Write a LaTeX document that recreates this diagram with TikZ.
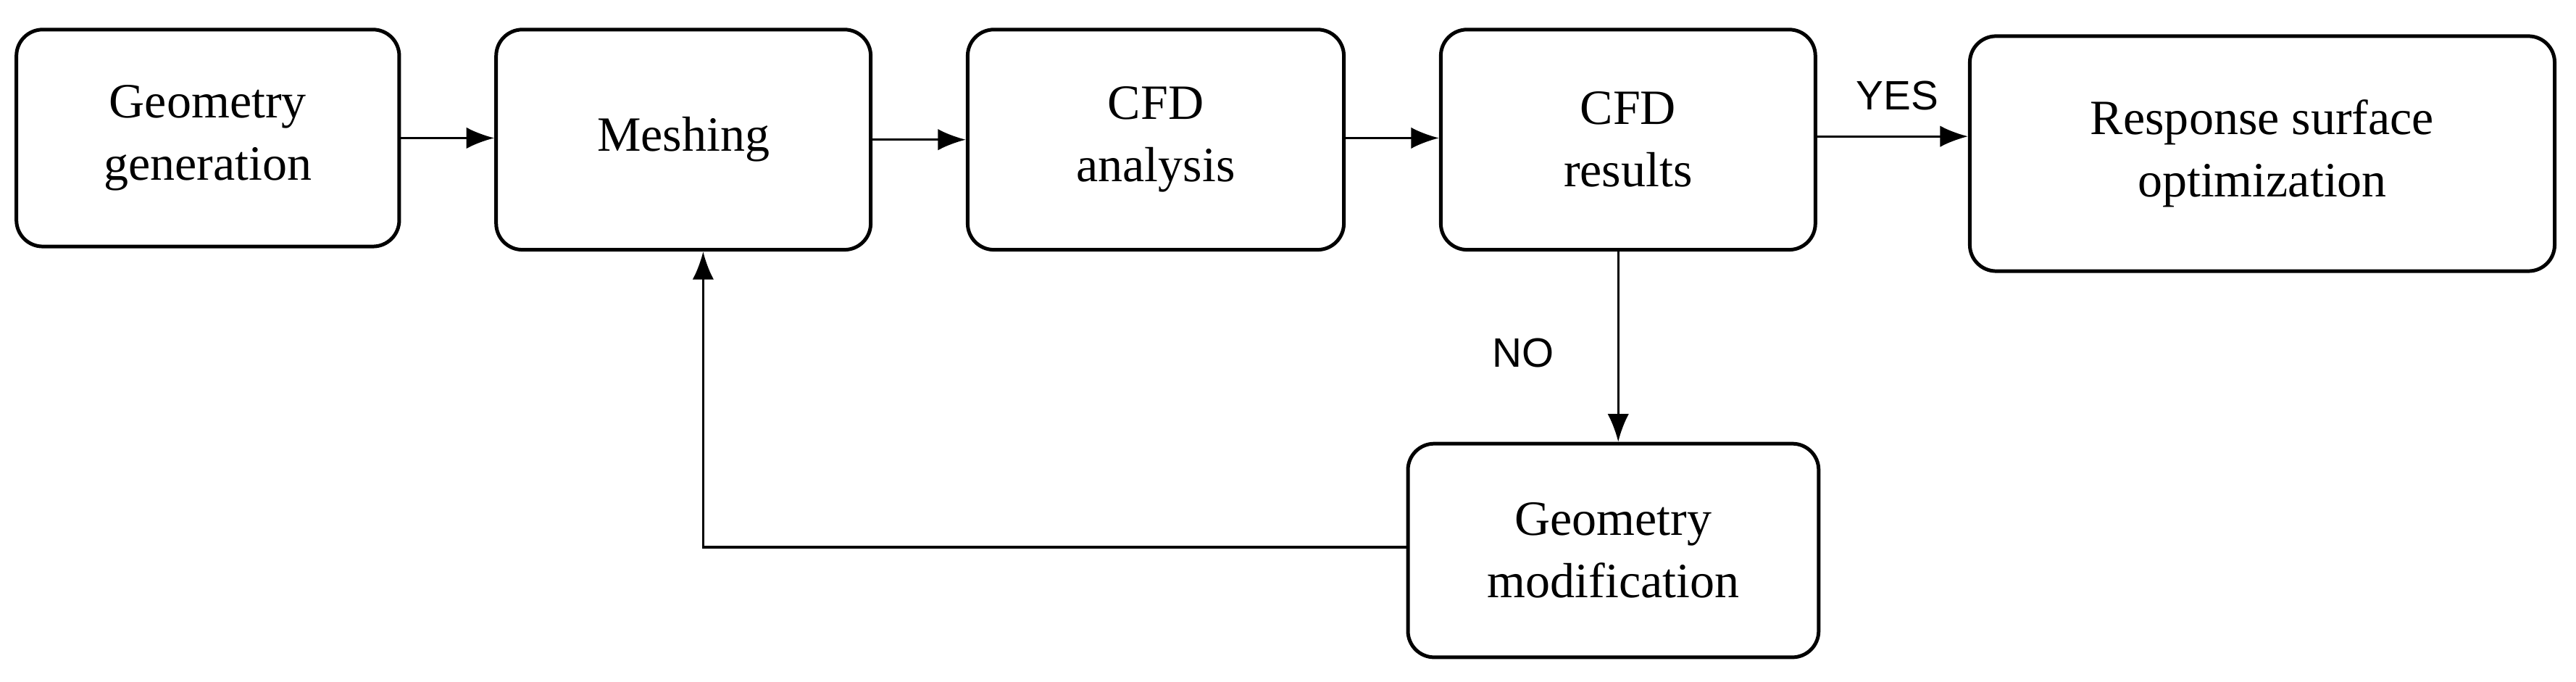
\documentclass[tikz,border=0pt]{standalone}
\usepackage{fontspec}
\setmainfont{Liberation Serif}
\newfontfamily\lab{Liberation Sans}
\usetikzlibrary{arrows.meta}
\begin{document}
\begin{tikzpicture}[x=1pt,y=-1pt,
  box/.style={draw,line width=2.2pt,rounded corners=16pt,align=center,font=\fontsize{30}{38}\selectfont},
  arr/.style={line width=1.4pt,-{Latex[length=17pt,width=13pt]}},
  lbl/.style={font=\lab\fontsize{25}{28}\selectfont}]
\useasboundingbox (0,0) rectangle (1568,415);
\node[box,minimum width=233pt,minimum height=132pt] (gg) at (126.5,84) {Geometry\\generation};
\node[box,minimum width=228pt,minimum height=134pt] (me) at (416,85) {Meshing};
\node[box,minimum width=229pt,minimum height=134pt] (ca) at (703.5,85) {CFD\\analysis};
\node[box,minimum width=228pt,minimum height=134pt] (cr) at (991,85) {CFD\\results};
\node[box,minimum width=356pt,minimum height=143pt] (rs) at (1377,93.5) {Response surface\\optimization};
\node[box,minimum width=250pt,minimum height=130pt] (gm) at (982,335) {Geometry\\modification};
\draw[arr] (gg.east|-0,84) -- (me.west|-0,84);
\draw[arr] (me.east|-0,85) -- (ca.west|-0,85);
\draw[arr] (ca.east|-0,84) -- (cr.west|-0,84);
\draw[arr] (cr.east|-0,83) -- (rs.west|-0,83);
\draw[arr] (cr.south-|985,0) -- (gm.north-|985,0);
\draw[arr] (gm.west|-0,333) -| (me.south-|428,0);
\node[lbl] (yes) at (1155,58) {YES};
\node[lbl] (no) at (927,215) {NO};
\end{tikzpicture}
\end{document}
